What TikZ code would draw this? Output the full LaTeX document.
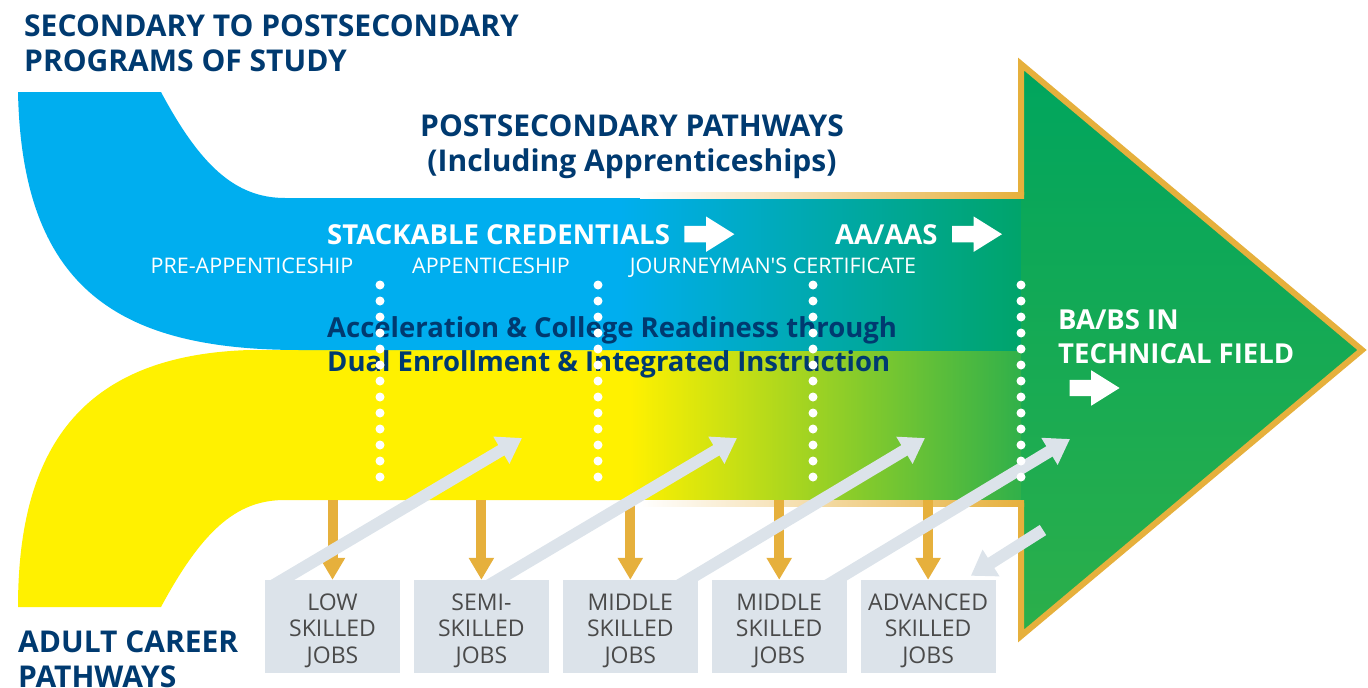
\documentclass[tikz,border=0pt]{standalone}
\usepackage{fontspec}
\setmainfont{Open Sans}
\usetikzlibrary{arrows.meta,positioning,shapes.arrows}

\definecolor{navy}{HTML}{003A70}
\definecolor{bandblue}{HTML}{00AEEF}
\definecolor{tealgreen}{HTML}{00A46A}
\definecolor{bandyellow}{HTML}{FFF100}
\definecolor{limegreen}{HTML}{7AC42F}
\definecolor{leafgreen}{HTML}{30B04A}
\definecolor{headtop}{HTML}{00A55E}
\definecolor{headbottom}{HTML}{2CAF4A}
\definecolor{gold}{HTML}{E6B03C}
\definecolor{jobgray}{HTML}{DCE3EA}
\definecolor{jobtext}{HTML}{4A4A4A}

\tikzset{
  heading/.style={text=navy, font=\fontsize{30}{35}\selectfont\bfseries, align=left, inner sep=0pt},
  whitehead/.style={text=white, font=\fontsize{27.5}{34}\selectfont\bfseries, align=left, inner sep=0pt},
  stage/.style={text=white, font=\fontsize{21.5}{25}\selectfont, inner sep=0pt},
  jobbox/.style={fill=jobgray, minimum width=135pt, minimum height=93pt, inner sep=0pt},
  jobwords/.style={align=center, text=jobtext, inner sep=0pt, font=\fontsize{23}{26.5}\selectfont},
  goldarrow/.style={draw=gold, line width=10pt, -{Triangle[width=24pt,length=22pt]}},
  grayarrow/.style={draw=jobgray, line width=12pt, -{Triangle[width=30pt,length=24pt]}},
  whitearrow/.style={single arrow, fill=white, minimum height=50pt, text height=8pt, text depth=8pt,
    text width=0pt, single arrow head extend=9.5pt, single arrow tip angle=64, inner sep=0pt}
}

\begin{document}
\begin{tikzpicture}[x=1pt,y=-1pt]
\useasboundingbox (0,0) rectangle (1368,688);

% adult band
\fill[bandyellow] (18,607) -- (161,607) .. controls (205,525) and (240,500) .. (285,500)
  -- (1022,500) -- (1022,350) -- (250,350) .. controls (80,355) and (18,450) .. (18,607) -- cycle;
\shade[left color=bandyellow, middle color=limegreen, right color=leafgreen] (630,350) rectangle (1022,500);

% secondary band
\fill[bandblue] (18,92) -- (161,92) .. controls (200,165) and (235,198) .. (285,198)
  -- (1022,198) -- (1022,350) -- (300,350) .. controls (120,350) and (22,290) .. (18,92) -- cycle;
\shade[left color=bandblue, right color=tealgreen] (620,198) rectangle (1022,350);

% arrow head
\shade[top color=headtop, bottom color=headbottom] (1021,64) -- (1362,350) -- (1021,636) -- cycle;
\draw[gold, line width=6pt, miter limit=10] (1021,195) -- (1021,64) -- (1362,350) -- (1021,636) -- (1021,503);
\shade[left color=white, right color=gold] (640,192) rectangle (1024,198);
\shade[left color=white, right color=gold] (640,500) rectangle (1024,506);

% jobs
\node[jobbox] (low) at (332.5,626.5) {};
\node[jobbox, right=13.5pt of low] (semi) {};
\node[jobbox, right=13.5pt of semi] (middleA) {};
\node[jobbox, right=13.5pt of middleA] (middleB) {};
\node[jobbox, right=13.5pt of middleB] (advanced) {};
\node[jobwords] (lowtext) at ([yshift=-4pt]low) {LOW\\SKILLED\\JOBS};
\node[jobwords] (semitext) at ([yshift=-4pt]semi) {SEMI-\\SKILLED\\JOBS};
\node[jobwords] (middleAtext) at ([yshift=-4pt]middleA) {MIDDLE\\SKILLED\\JOBS};
\node[jobwords] (middleBtext) at ([yshift=-4pt]middleB) {MIDDLE\\SKILLED\\JOBS};
\node[jobwords] (advancedtext) at ([yshift=-4pt]advanced) {ADVANCED\\SKILLED\\JOBS};

\coordinate (bandfoot) at (0,500);
\foreach \job in {low,semi,middleA,middleB,advanced}
  \draw[goldarrow] (\job.north |- bandfoot) -- (\job.north);

\coordinate (up1) at (522,438);
\coordinate (up2) at (737,438);
\coordinate (up3) at (925,438);
\coordinate (up4) at (1070,439);
\coordinate (back) at (1043,530);
\begin{scope}
  \clip (0,0) rectangle (1368,580);
  \draw[grayarrow] ([xshift=-83.5pt,yshift=-20pt]low.north) -- (up1);
  \draw[grayarrow] ([xshift=-17pt,yshift=-20pt]semi.north) -- (up2);
  \draw[grayarrow] ([xshift=24.5pt,yshift=-20pt]middleA.north) -- (up3);
  \draw[grayarrow] ([xshift=24pt,yshift=-20pt]middleB.north) -- (up4);
  \draw[grayarrow] (back) -- ([xshift=-25pt,yshift=4pt]advanced.north east);
\end{scope}

% texts
\node[heading, anchor=north west] (secondary) at (24,15) {SECONDARY TO POSTSECONDARY\\PROGRAMS OF STUDY};
\node[heading, anchor=north, align=center] (postsec) at (632,115) {POSTSECONDARY PATHWAYS\\(Including Apprenticeships)};
\node[whitehead, anchor=base west] (stackable) at (327,244) {STACKABLE CREDENTIALS};
\node[whitearrow, right=14pt of stackable] (stackarrow) {};
\node[whitehead, anchor=base west] (aaas) at (835,244) {AA/AAS};
\node[whitearrow, right=14pt of aaas] (aaasarrow) {};
\node[stage, anchor=base] (preapp) at (252,273) {PRE-APPENTICESHIP};
\node[stage, anchor=base] (app) at (491,273) {APPENTICESHIP};
\node[stage, anchor=base] (journey) at (773,273) {JOURNEYMAN\textquotesingle S CERTIFICATE};
\node[heading, font=\fontsize{27.5}{34}\selectfont\bfseries, anchor=north west] (accel) at (327,316)
  {Acceleration \& College Readiness through\\Dual Enrollment \& Integrated Instruction};
\node[whitehead, anchor=north west] (babs) at (1058,309) {BA/BS IN\\TECHNICAL FIELD};
\node[whitearrow] (babsarrow) at (1088,388) {};
\node[heading, anchor=north west] (adult) at (18,631) {ADULT CAREER\\PATHWAYS};

% dotted dividers
\foreach \x in {380,598,813,1021}
  \foreach \k in {0,...,12}
    \fill[white] (\x,285+16*\k) circle (4.5pt);
\end{tikzpicture}
\end{document}
